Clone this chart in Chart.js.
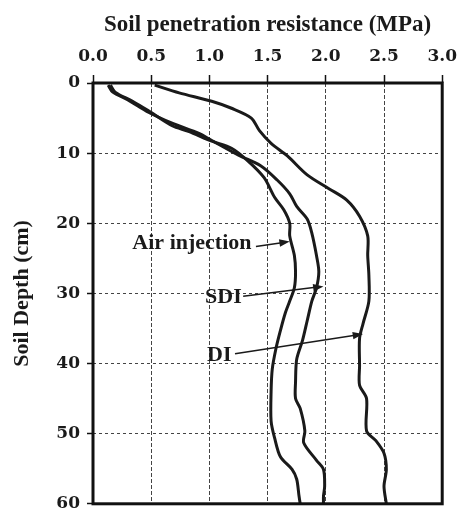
<!DOCTYPE html>
<html>
<head>
<meta charset="utf-8">
<script src="https://cdn.jsdelivr.net/npm/chart.js@4.4.0/dist/chart.umd.min.js"></script>
<style>
  body { margin: 0; background: #fff; }
  canvas { display: block; }
</style>
</head>
<body>
<canvas id="chart" width="465" height="521"></canvas>
<script>
// Soil penetration resistance profiles (depth in cm, resistance in MPa)

const airDepth = [0.3, 1.3, 2.6, 4.0, 6.1, 6.9, 8.3, 9.3, 11.1, 13.5, 16.3, 18.1, 20.0, 21.8, 24.6, 26.9, 29.2, 31.1, 32.9, 35.3, 38.0, 40.8, 44.0, 48.2, 50.6, 53.3, 55.1, 56.5, 58.9, 60.0];
const airMPa = [0.15, 0.19, 0.34, 0.48, 0.68, 0.82, 1.02, 1.19, 1.33, 1.47, 1.56, 1.64, 1.69, 1.69, 1.73, 1.74, 1.73, 1.69, 1.65, 1.61, 1.57, 1.54, 1.53, 1.53, 1.56, 1.61, 1.71, 1.75, 1.77, 1.78];

const sdiDepth = [0.3, 1.3, 2.4, 4.2, 5.8, 7.2, 8.2, 10.3, 11.8, 13.8, 15.8, 17.6, 19.4, 21.4, 24.6, 26.9, 29.2, 31.1, 33.9, 36.7, 39.4, 42.6, 45.0, 46.4, 49.6, 51.3, 53.8, 55.1, 57.5, 58.9, 60.0];
const sdiMPa = [0.13, 0.17, 0.30, 0.48, 0.69, 0.91, 1.02, 1.25, 1.44, 1.58, 1.69, 1.75, 1.84, 1.88, 1.92, 1.94, 1.92, 1.88, 1.84, 1.80, 1.75, 1.74, 1.74, 1.78, 1.82, 1.81, 1.92, 1.98, 1.99, 1.98, 1.98];

const diDepth = [0.3, 1.4, 2.6, 3.6, 5.0, 6.8, 8.6, 10.4, 13.1, 15.1, 16.7, 19.0, 21.8, 24.6, 27.4, 31.1, 34.3, 36.4, 40.3, 43.1, 45.0, 49.6, 51.0, 52.8, 55.1, 57.5, 60.0];
const diMPa = [0.53, 0.74, 1.02, 1.19, 1.36, 1.43, 1.53, 1.67, 1.84, 2.03, 2.18, 2.29, 2.36, 2.36, 2.37, 2.37, 2.32, 2.29, 2.29, 2.29, 2.35, 2.35, 2.43, 2.50, 2.52, 2.50, 2.52];

const xTicks = [0, 0.5, 1.0, 1.5, 2.0, 2.5, 3.0];
const yTicks = [0, 10, 20, 30, 40, 50, 60];

// labels with arrows: text anchor and arrow start/end, in data units (MPa, cm)
const labelNames = ['Air injection', 'SDI', 'DI'];
const labelAt = [[0.85, 22.8], [1.12, 30.6], [1.085, 38.8]];
const arrowFrom = [[1.40, 23.3], [1.29, 30.4], [1.22, 38.6]];
const arrowTo = [[1.69, 22.6], [1.98, 29.0], [2.32, 35.8]];

function toPoints(xs, ys) {
  return xs.map((x, i) => ({ x: x, y: ys[i] }));
}

const serif = '"Liberation Serif", "Times New Roman", serif';

// thick frame around the plot area
const framePlugin = {
  id: 'frame',
  afterDraw(chart) {
    const { ctx, chartArea: a } = chart;
    ctx.save();
    ctx.strokeStyle = '#111';
    ctx.lineWidth = 3;
    ctx.strokeRect(a.left, a.top, a.right - a.left, a.bottom - a.top);
    ctx.restore();
  }
};

// text labels with arrows pointing at the curves
const labelPlugin = {
  id: 'curveLabels',
  afterDatasetsDraw(chart) {
    const { ctx } = chart;
    const xs = chart.scales.x, ys = chart.scales.y;
    ctx.save();
    ctx.fillStyle = '#1a1a1a';
    ctx.strokeStyle = '#1a1a1a';
    ctx.font = 'bold 22px ' + serif;
    ctx.textAlign = 'center';
    ctx.textBaseline = 'middle';
    labelNames.forEach((name, i) => {
      ctx.fillText(name, xs.getPixelForValue(labelAt[i][0]), ys.getPixelForValue(labelAt[i][1]));
      const x1 = xs.getPixelForValue(arrowFrom[i][0]), y1 = ys.getPixelForValue(arrowFrom[i][1]);
      const x2 = xs.getPixelForValue(arrowTo[i][0]), y2 = ys.getPixelForValue(arrowTo[i][1]);
      const ang = Math.atan2(y2 - y1, x2 - x1);
      ctx.lineWidth = 1.5;
      ctx.beginPath();
      ctx.moveTo(x1, y1);
      ctx.lineTo(x2 - 8 * Math.cos(ang), y2 - 8 * Math.sin(ang));
      ctx.stroke();
      ctx.beginPath();
      ctx.moveTo(x2, y2);
      ctx.lineTo(x2 - 11 * Math.cos(ang - 0.35), y2 - 11 * Math.sin(ang - 0.35));
      ctx.lineTo(x2 - 11 * Math.cos(ang + 0.35), y2 - 11 * Math.sin(ang + 0.35));
      ctx.closePath();
      ctx.fill();
    });
    ctx.restore();
  }
};

const lineStyle = {
  borderColor: '#1a1a1a',
  borderWidth: 3,
  pointRadius: 0,
  tension: 0.3,
  showLine: true,
  fill: false
};

const ctx = document.getElementById('chart').getContext('2d');
new Chart(ctx, {
  type: 'scatter',
  data: {
    datasets: [
      Object.assign({ label: 'Air injection', data: toPoints(airMPa, airDepth) }, lineStyle),
      Object.assign({ label: 'SDI', data: toPoints(sdiMPa, sdiDepth) }, lineStyle),
      Object.assign({ label: 'DI', data: toPoints(diMPa, diDepth) }, lineStyle)
    ]
  },
  options: {
    responsive: false,
    animation: false,
    layout: { padding: { top: 0, left: 0, right: 16, bottom: 6 } },
    plugins: {
      legend: { display: false },
      tooltip: { enabled: false }
    },
    scales: {
      x: {
        type: 'linear',
        position: 'top',
        min: 0,
        max: 3,
        afterFit(scale) { scale.height = 83; },
        afterBuildTicks(scale) { scale.ticks = xTicks.map(v => ({ value: v })); },
        title: {
          display: true,
          text: 'Soil penetration resistance (MPa)',
          color: '#1a1a1a',
          font: { family: serif, size: 23, weight: 'bold' },
          padding: { top: 11, bottom: 0 }
        },
        ticks: {
          color: '#1a1a1a',
          font: { family: '"DejaVu Serif", serif', size: 17, weight: 'bold' },
          padding: 8,
          maxRotation: 0,
          callback: v => Number(v).toFixed(1)
        },
        grid: {
          color: '#444',
          lineWidth: 1,
          tickLength: 8,
          tickColor: '#111',
          tickWidth: 1.5,
          tickBorderDash: []
        },
        border: { display: false, dash: [4, 2] }
      },
      y: {
        type: 'linear',
        reverse: true,
        min: 0,
        max: 60,
        afterFit(scale) { scale.width = 93; },
        afterBuildTicks(scale) { scale.ticks = yTicks.map(v => ({ value: v })); },
        title: {
          display: true,
          text: 'Soil Depth (cm)',
          color: '#1a1a1a',
          font: { family: serif, size: 22, weight: 'bold' },
          padding: { top: 9, bottom: 0 }
        },
        ticks: {
          color: '#1a1a1a',
          font: { family: '"DejaVu Serif", serif', size: 17, weight: 'bold' },
          padding: 7
        },
        grid: {
          color: '#444',
          lineWidth: 1,
          tickLength: 6,
          tickColor: '#111',
          tickWidth: 1.5,
          tickBorderDash: []
        },
        border: { display: false, dash: [3, 3] }
      }
    }
  },
  plugins: [framePlugin, labelPlugin]
});
</script>
</body>
</html>
